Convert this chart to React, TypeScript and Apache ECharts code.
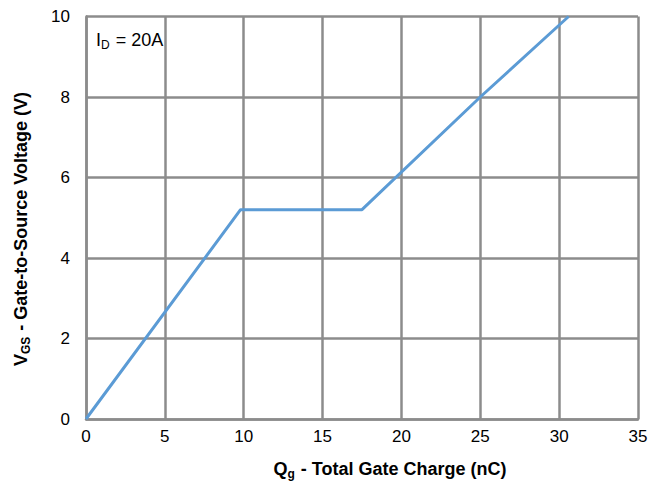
import React, { useEffect, useRef } from "react";
import * as echarts from "echarts";

const chargeNC = [0, 9.8, 17.5, 25, 30.6];
const vgsV = [0, 5.2, 5.2, 8, 10];
const xTicks = { min: 0, max: 35, interval: 5 };
const yTicks = { min: 0, max: 10, interval: 2 };

export default function App() {
  const ref = useRef<HTMLDivElement>(null);
  useEffect(() => {
    if (!ref.current) return;
    const chart = echarts.init(ref.current, null, { renderer: "svg" });
    const font = "'Liberation Sans', Arial, sans-serif";
    const gridColor = "#8c8c8c";
    const titleRich = {
      b: { fontSize: 18, fontWeight: "bold", fill: "#000", fontFamily: font, lineHeight: 24 },
      s: { fontSize: 12, fontWeight: "bold", fill: "#000", fontFamily: font, padding: [9, 1, 0, 0], lineHeight: 24 },
    };
    chart.setOption({
      animation: false,
      textStyle: { fontFamily: font },
      grid: { left: 78, right: 13, top: 6, bottom: 62, containLabel: false },
      xAxis: {
        type: "value",
        ...xTicks,
        axisLine: { show: true, lineStyle: { color: gridColor, width: 2.5 } },
        axisTick: { show: false },
        splitLine: { show: true, lineStyle: { color: gridColor, width: 2.5 } },
        axisLabel: { color: "#000", fontSize: 17, margin: 9, fontFamily: font },
      },
      yAxis: {
        type: "value",
        ...yTicks,
        axisLine: { show: true, lineStyle: { color: gridColor, width: 2.5 } },
        axisTick: { show: false },
        splitLine: { show: true, lineStyle: { color: gridColor, width: 2.5 } },
        axisLabel: { color: "#000", fontSize: 17, margin: 16, fontFamily: font },
      },
      graphic: [
        {
          type: "text",
          x: 88,
          y: 32,
          style: {
            text: "{n|I}{s|D}{n| = 20A}",
            verticalAlign: "middle",
            rich: {
              n: { fontSize: 18, fill: "#000", fontFamily: font, lineHeight: 24 },
              s: { fontSize: 12, fill: "#000", fontFamily: font, padding: [9, 1, 0, 0], lineHeight: 24 },
            },
          },
        },
        {
          type: "text",
          x: 382,
          y: 461,
          style: {
            text: "{b|Q}{s|g}{b| - Total Gate Charge (nC)}",
            align: "center",
            verticalAlign: "middle",
            rich: titleRich,
          },
        },
        {
          type: "text",
          x: 13,
          y: 221,
          rotation: Math.PI / 2,
          style: {
            text: "{b|V}{s|GS}{b| - Gate-to-Source Voltage (V)}",
            align: "center",
            verticalAlign: "middle",
            rich: titleRich,
          },
        },
      ],
      series: [
        {
          type: "line",
          data: chargeNC.map((x, i) => [x, vgsV[i]]),
          showSymbol: false,
          lineStyle: { color: "#5B9BD5", width: 3 },
          clip: true,
        },
      ],
    });
    return () => chart.dispose();
  }, []);
  return <div ref={ref} style={{ width: 643, height: 473 }} />;
}
